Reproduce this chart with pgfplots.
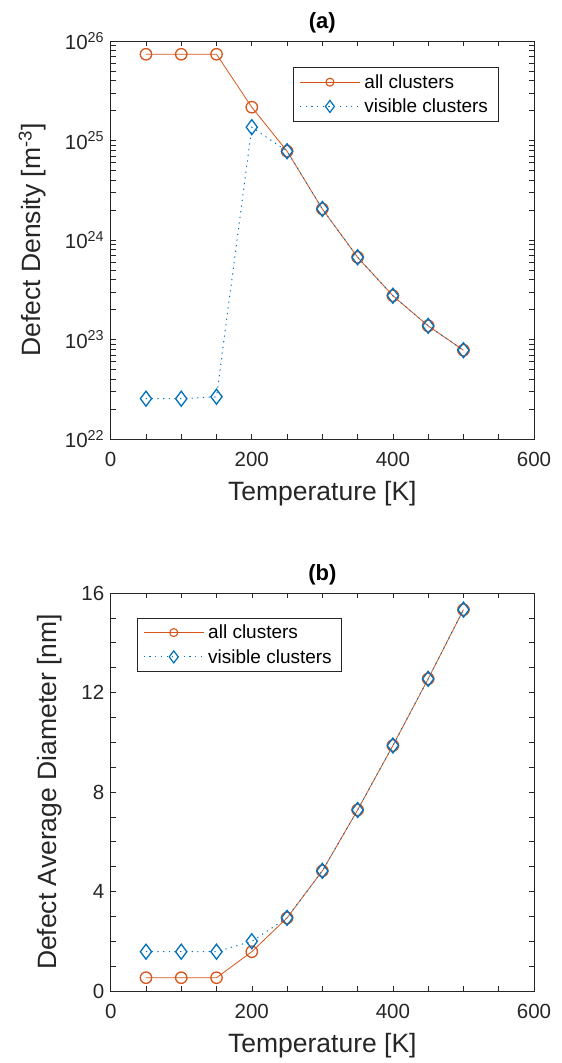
\documentclass[border=0pt]{standalone}
\usepackage{fontspec}
\setmainfont{Liberation Sans}
\usepackage{pgfplots}
\pgfplotsset{compat=1.18}
\definecolor{morange}{rgb}{0.85,0.325,0.098}
\definecolor{mblue}{rgb}{0,0.447,0.741}
\definecolor{mgray}{rgb}{0.15,0.15,0.15}
\pgfplotsset{
 mystyle/.style={
  scale only axis, width=423.3pt, height=398pt,
  xmin=0, xmax=600, xtick={0,200,400,600}, minor xtick={50,100,...,550},
  axis line style={mgray, line width=0.6pt},
  every tick/.style={mgray, line width=0.6pt},
  major tick length=5pt, minor tick length=5pt,
  tick label style={font=\fontsize{20.5}{24}\selectfont, text=mgray},
  xticklabel style={yshift=-10pt},
  yticklabel style={xshift=-3pt},
  label style={font=\fontsize{26.5}{30}\selectfont, text=mgray},
  xlabel style={yshift=-7pt},
  ylabel style={yshift=12pt},
  title style={font=\fontsize{22}{26}\selectfont\bfseries, text=black, yshift=-2pt},
  xlabel={Temperature [K]},
  legend style={font=\fontsize{19}{23}\selectfont, draw=mgray, line width=0.6pt, inner xsep=6pt, inner ysep=5pt, row sep=5pt,
    nodes={inner xsep=4pt, inner ysep=2pt}},
  legend cell align=left,
  legend image code/.code={\draw[mark repeat=2,mark phase=2] plot coordinates {(0pt,0pt)(30pt,0pt)(60pt,0pt)};},
  /pgf/number format/assume math mode=true,
 },
 allc/.style={morange, line width=0.8pt, mark=o, mark size=5.7pt, mark options={solid, line width=1.3pt}},
 visc/.style={mblue, line width=1pt, dash pattern=on 1.2pt off 4.5pt, mark=diamond, mark size=7.5pt, mark options={solid, line width=1.3pt}},
 allleg/.style={morange, line width=0.8pt, mark=o, mark size=4pt, mark options={solid, line width=1.1pt}},
 visleg/.style={mblue, line width=1pt, dash pattern=on 1.2pt off 4.5pt, mark=diamond, mark size=6pt, mark options={solid, line width=1.2pt}},
}
\begin{document}
\begin{tikzpicture}
\path[use as bounding box] (0pt,0pt) rectangle (562pt,-1063pt);
\begin{axis}[mystyle, at={(110.7pt,-439pt)}, anchor=south west,
  ymode=log, ymin=1e22, ymax=1e26,
  ytick={1e22,1e23,1e24,1e25,1e26},
  yticklabels={10\textsuperscript{22},10\textsuperscript{23},10\textsuperscript{24},10\textsuperscript{25},10\textsuperscript{26}},
  ylabel={Defect Density [m\textsuperscript{-3}]},
  title={(a)},
  legend style={at={(0.431,0.934)}, anchor=north west},
]
\addlegendimage{allleg}
\addlegendentry{all clusters}
\addlegendimage{visleg}
\addlegendentry{visible clusters}
\addplot[allc, forget plot] coordinates {(50,7.35e25)(100,7.35e25)(150,7.35e25)(200,2.16e25)(250,7.8e24)(300,2.05e24)(350,6.7e23)(400,2.75e23)(450,1.37e23)(500,7.8e22)};
\addplot[visc, forget plot] coordinates {(50,2.54e22)(100,2.54e22)(150,2.66e22)(200,1.36e25)(250,7.8e24)(300,2.05e24)(350,6.7e23)(400,2.75e23)(450,1.37e23)(500,7.8e22)};
\end{axis}
\begin{axis}[mystyle, at={(110.7pt,-991pt)}, anchor=south west,
  ymin=0, ymax=16, ytick={0,4,8,12,16}, minor ytick={1,2,3,5,6,7,9,10,11,13,14,15},
  ylabel={Defect Average Diameter [nm]},
  title={(b)},
  legend style={at={(0.062,0.938)}, anchor=north west},
]
\addlegendimage{allleg}
\addlegendentry{all clusters}
\addlegendimage{visleg}
\addlegendentry{visible clusters}
\addplot[allc, forget plot] coordinates {(50,0.535)(100,0.535)(150,0.535)(200,1.58)(250,2.94)(300,4.83)(350,7.28)(400,9.87)(450,12.55)(500,15.33)};
\addplot[visc, forget plot] coordinates {(50,1.58)(100,1.58)(150,1.58)(200,2.0)(250,2.94)(300,4.83)(350,7.28)(400,9.87)(450,12.55)(500,15.33)};
\end{axis}
\end{tikzpicture}
\end{document}
